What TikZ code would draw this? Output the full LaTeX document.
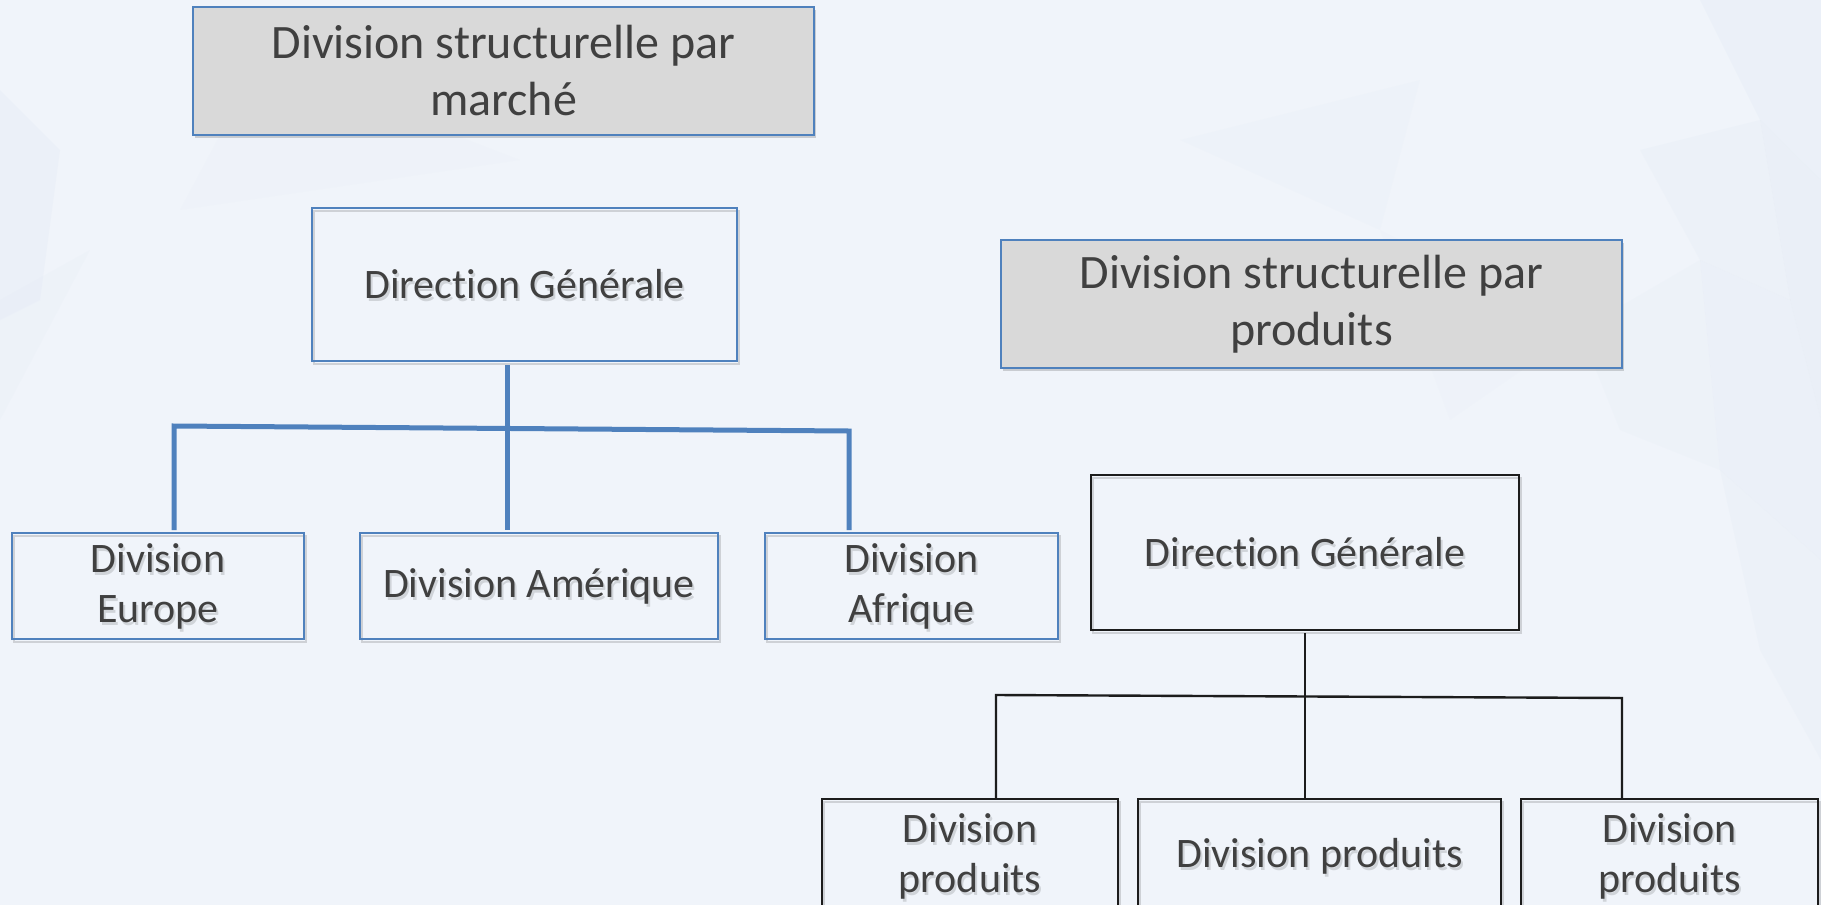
\documentclass[tikz,border=0pt]{standalone}
\usepackage{fontspec}
\setmainfont{Carlito}[Ligatures={NoCommon}]
\usetikzlibrary{calc}
\definecolor{bgbase}{HTML}{F0F4FA}
\definecolor{facet}{HTML}{DCE5F1}
\definecolor{accent}{HTML}{4F81BD}
\definecolor{titlefill}{HTML}{D9D9D9}
\definecolor{inktext}{HTML}{404040}
\definecolor{inkline}{HTML}{1C1C1C}

\tikzset{
  boxtext/.style={font=\fontsize{42}{50}\selectfont, text=inktext, align=center, inner sep=0pt},
  titlebox/.style={boxtext, font=\fontsize{48}{57}\selectfont, draw=accent, line width=2pt,
    fill=titlefill, minimum width=621pt, minimum height=128pt},
  bluebox/.style={boxtext, draw=accent, line width=2pt},
  blackbox/.style={boxtext, draw=inkline, line width=2.4pt},
  boxshade/.style={draw=black, draw opacity=0.14, text=black, text opacity=0.13},
  titleshade/.style={draw=none, fill=black, fill opacity=0.16, text=black, text opacity=0.13},
  blueconn/.style={draw=accent, line width=5pt},
  blackconn/.style={draw=inkline, line width=2.4pt},
}

% box with a soft offset shadow under its frame and text
\newcommand\orgnode[5]{%
  \node[#1, #5] at ([shift={(2pt,-3pt)}]#3) {#4};
  \node[#1] (#2) at (#3) {#4};
}

\begin{document}
\begin{tikzpicture}[x=1pt, y=-1pt]
\useasboundingbox (0,0) rectangle (1821,905);
\clip (0,0) rectangle (1821,905);

% backdrop with faint facets
\fill[bgbase] (0,0) rectangle (1821,905);
\begin{scope}[fill=facet]
  \fill[opacity=0.22] (0,90) -- (60,150) -- (40,300) -- (0,320) -- cycle;
  \fill[opacity=0.12] (0,300) -- (90,250) -- (0,420) -- cycle;
  \fill[opacity=0.22] (1700,0) -- (1821,0) -- (1821,180) -- (1760,120) -- cycle;
  \fill[opacity=0.28] (1760,120) -- (1821,180) -- (1821,420) -- (1790,300) -- cycle;
  \fill[opacity=0.16] (1640,150) -- (1760,120) -- (1790,300) -- (1700,260) -- cycle;
  \fill[opacity=0.22] (1700,260) -- (1790,300) -- (1821,420) -- (1821,560) -- (1720,470) -- cycle;
  \fill[opacity=0.12] (1580,330) -- (1700,260) -- (1720,470) -- (1620,430) -- cycle;
  \fill[opacity=0.18] (1720,470) -- (1821,560) -- (1821,760) -- (1760,650) -- cycle;
  \fill[opacity=0.10] (1180,140) -- (1420,80) -- (1380,230) -- cycle;
  \fill[opacity=0.08] (1380,230) -- (1580,330) -- (1450,420) -- cycle;
  \fill[opacity=0.08] (260,60) -- (520,160) -- (180,210) -- cycle;
\end{scope}

% ---- structure by market ----
\orgnode{titlebox}{titleA}{503.5,71}{Division structurelle par\\marché}{titleshade}
\orgnode{bluebox, minimum width=425pt, minimum height=153pt}{dgA}{524.5,284.5}{Direction Générale}{boxshade}
\orgnode{bluebox, minimum width=292pt, minimum height=106pt}{europe}{158,586}{Division\\Europe}{boxshade}
\orgnode{bluebox, minimum width=358pt, minimum height=106pt}{amerique}{539,586}{Division Amérique}{boxshade}
\orgnode{bluebox, minimum width=293pt, minimum height=106pt}{afrique}{911.5,586}{Division\\Afrique}{boxshade}

\coordinate (trunkA) at (507,0);
\coordinate (barAl) at (174,426);
\coordinate (barAr) at (849,431);
\draw[blueconn] ([yshift=-3pt]trunkA |- dgA.south) -- ([yshift=2pt]trunkA |- amerique.north);
\draw[blueconn] ([yshift=2pt]barAl |- europe.north) -- (barAl) -- (barAr) -- ([yshift=2pt]barAr |- afrique.north);

% ---- structure by products ----
\orgnode{titlebox}{titleB}{1311.5,304}{Division structurelle par\\produits}{titleshade}
\orgnode{blackbox, minimum width=428pt, minimum height=155pt}{dgB}{1305,552.5}{Direction Générale}{boxshade}
\orgnode{blackbox, minimum width=296pt, minimum height=114pt}{prodA}{970,856}{Division\\produits}{boxshade}
\orgnode{blackbox, minimum width=363pt, minimum height=114pt}{prodB}{1319.5,856}{Division produits}{boxshade}
\orgnode{blackbox, minimum width=297pt, minimum height=114pt}{prodC}{1669.5,856}{Division\\produits}{boxshade}

\coordinate (trunkB) at (1305,0);
\coordinate (barBl) at (996,695);
\coordinate (barBr) at (1622,698);
\draw[blackconn] ([yshift=-2pt]trunkB |- dgB.south) -- (trunkB |- prodB.north);
\draw[blackconn] (barBl |- prodA.north) -- (barBl) -- (barBr) -- (barBr |- prodC.north);
\end{tikzpicture}
\end{document}
